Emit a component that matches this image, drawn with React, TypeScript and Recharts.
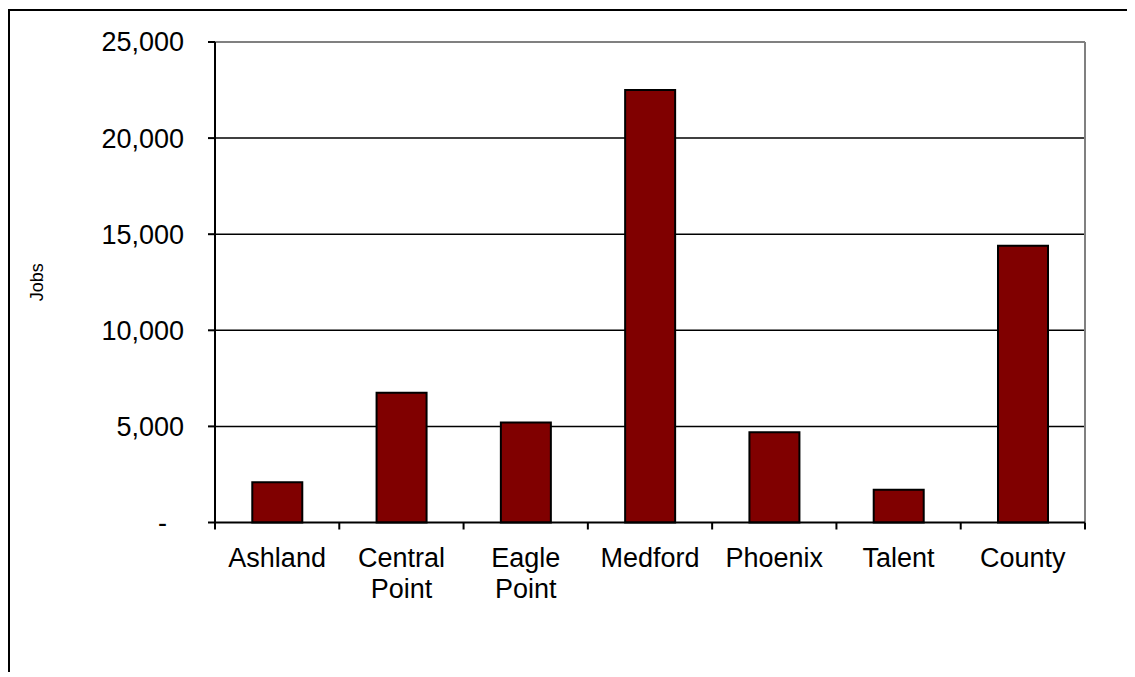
import React from 'react';
import { BarChart, Bar, XAxis, YAxis, ReferenceLine, CartesianGrid } from 'recharts';

// Jobs by city, Jackson County
const categories = ['Ashland', 'Central Point', 'Eagle Point', 'Medford', 'Phoenix', 'Talent', 'County'];
const jobs = [2100, 6750, 5200, 22500, 4700, 1700, 14400];
const yTicks = [0, 5000, 10000, 15000, 20000, 25000];
const gridValues = [5000, 10000, 15000, 20000];

// pos = centre of each category on the frame axis
const data = categories.map((name, i) => ({ name, jobs: jobs[i], pos: i + 0.5 }));

// frame axis: integer ticks mark category boundaries, half ticks carry the labels
const frameTicks: number[] = [];
for (let i = 0; i <= categories.length * 2; i++) frameTicks.push(i / 2);

const FONT = "'Liberation Sans', Arial, sans-serif";

const FrameTick = (props: any) => {
  const { x, y, payload } = props;
  const v = payload.value as number;
  if (Number.isInteger(v)) {
    return <line x1={x} y1={y} x2={x} y2={y + 7} stroke="#000" strokeWidth={2} />;
  }
  const label = categories[Math.floor(v)] || '';
  const lines = label.split(' ');
  return (
    <text x={x} y={y + 44} textAnchor="middle" fontFamily={FONT} fontSize={27} fill="#000">
      {lines.map((ln, i) => (
        <tspan key={i} x={x} dy={i === 0 ? 0 : 31.5}>
          {ln}
        </tspan>
      ))}
    </text>
  );
};

const YTick = (props: any) => {
  const { x, y, payload } = props;
  const v = payload.value as number;
  const txt = v === 0 ? '-' : v.toLocaleString('en-US');
  return (
    <text x={x} y={y} dx={v === 0 ? -17 : 0} dy="0.35em" textAnchor="end" fontFamily={FONT} fontSize={27} fill="#000">
      {txt}
    </text>
  );
};

const JobsLabel = (props: any) => {
  const { viewBox } = props;
  const cx = viewBox.x + 29;
  const cy = viewBox.y + viewBox.height / 2;
  return (
    <text x={cx} y={cy} transform={`rotate(-90 ${cx} ${cy})`} textAnchor="middle" dy="0.35em" fontFamily={FONT} fontSize={18} fill="#000">
      Jobs
    </text>
  );
};

export default function App() {
  return (
    <div style={{ position: 'relative', width: 1127, height: 669 }}>
      <BarChart
        width={1127}
        height={669}
        data={data}
        margin={{ top: 34, right: 50, left: 0, bottom: 54.5 }}
        barCategoryGap="30%"
      >
        <CartesianGrid horizontal vertical={false} horizontalValues={gridValues} stroke="#000" strokeWidth={1.5} />
        <XAxis xAxisId="cat" dataKey="name" type="category" hide height={0} />
        <XAxis
          xAxisId="frame"
          dataKey="pos"
          type="number"
          domain={[0, categories.length]}
          ticks={frameTicks}
          interval={0}
          allowDataOverflow
          height={100}
          tickLine={false}
          tickSize={0}
          tickMargin={0}
          axisLine={{ stroke: '#000', strokeWidth: 2 }}
          tick={<FrameTick />}
        />
        <YAxis
          type="number"
          domain={[0, 25000]}
          ticks={yTicks}
          interval={0}
          width={207}
          tickSize={7}
          tickMargin={24}
          axisLine={{ stroke: '#000', strokeWidth: 2 }}
          tickLine={{ stroke: '#000', strokeWidth: 2 }}
          tick={<YTick />}
          label={<JobsLabel />}
        />
        <ReferenceLine y={25000} stroke="#808080" strokeWidth={2} xAxisId="frame" />
        <ReferenceLine x={categories.length} stroke="#808080" strokeWidth={2} xAxisId="frame" />
        <Bar dataKey="jobs" xAxisId="cat" fill="#800000" stroke="#000" strokeWidth={2} isAnimationActive={false} />
      </BarChart>
      <div
        style={{
          position: 'absolute',
          left: 0,
          top: 1,
          width: 1125,
          height: 661,
          borderTop: '2px solid #000',
          borderLeft: '2px solid #000',
          pointerEvents: 'none',
        }}
      />
    </div>
  );
}
